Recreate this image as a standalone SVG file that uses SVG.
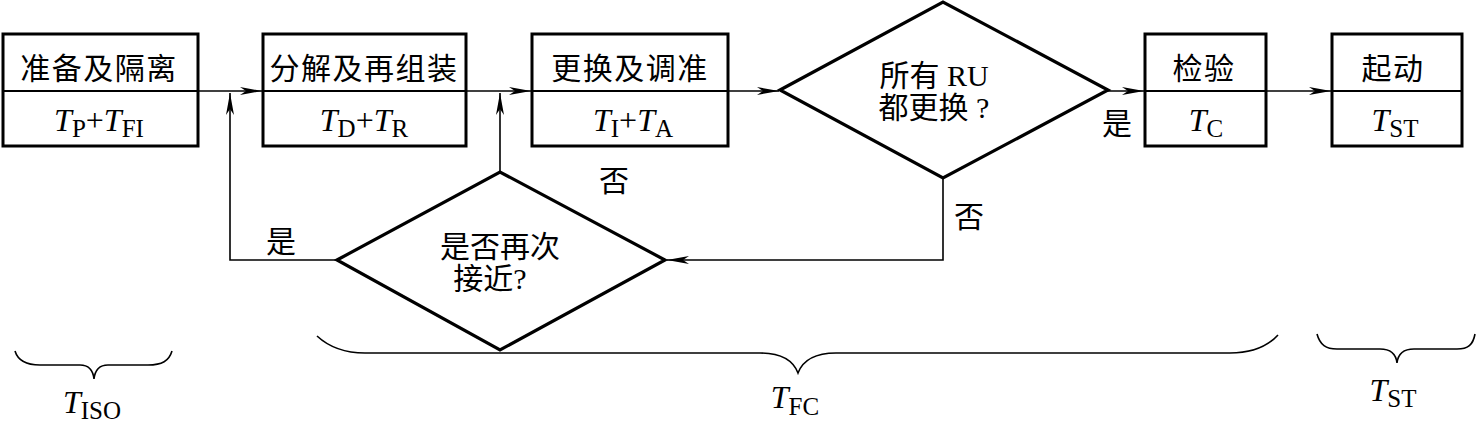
<svg xmlns="http://www.w3.org/2000/svg" width="1476" height="422" viewBox="0 0 1476 422">
<style>
.box{fill:#fff;stroke:#000;stroke-width:3}
.div{stroke:#000;stroke-width:2}
.dia{fill:#fff;stroke:#000;stroke-width:3.2;stroke-linejoin:miter}
.con{fill:none;stroke:#000;stroke-width:1.6}
.brace{fill:none;stroke:#000;stroke-width:1.6}
.cn{font-family:"Liberation Serif","Noto Sans CJK SC",serif;font-size:30px;fill:#000;text-anchor:middle}
.f{font-family:"Liberation Serif",serif;font-size:32px;fill:#000;text-anchor:middle}
.i{font-style:italic}
.s{font-size:25px}
</style>
<defs>
<marker id="arr" viewBox="0 0 22 8" refX="22" refY="4" markerWidth="22" markerHeight="8" markerUnits="userSpaceOnUse" orient="auto">
<path d="M0,0 L22,4 L0,8 L6,4 Z" fill="#000"/>
</marker>
</defs>
<g id="connectors">
<path class="con" d="M198,91 H262" marker-end="url(#arr)"/>
<path class="con" d="M466,91 H531" marker-end="url(#arr)"/>
<path class="con" d="M728,91 H779" marker-end="url(#arr)"/>
<path class="con" d="M1108,91 H1144" marker-end="url(#arr)"/>
<path class="con" d="M1266,91 H1331" marker-end="url(#arr)"/>
<path class="con" d="M943,178 V260 H667" marker-end="url(#arr)"/>
<path class="con" d="M337,260 H230 V93" marker-end="url(#arr)"/>
<path class="con" d="M500,172 V93" marker-end="url(#arr)"/>
</g>
<g id="box1">
<rect class="box" x="3" y="34" width="195" height="112"/>
<line class="div" x1="3" y1="91" x2="198" y2="91"/>
<text class="cn" x="99" y="79" letter-spacing="1.5">准备及隔离</text>
<text class="f" x="99" y="131"><tspan class="i">T</tspan><tspan class="s" dy="6">P</tspan><tspan dy="-6">+</tspan><tspan class="i">T</tspan><tspan class="s" dy="6">FI</tspan></text>
</g>
<g id="box2">
<rect class="box" x="263" y="34" width="203" height="112"/>
<line class="div" x1="263" y1="91" x2="466" y2="91"/>
<text class="cn" x="364" y="79" letter-spacing="1.5">分解及再组装</text>
<text class="f" x="364" y="131"><tspan class="i">T</tspan><tspan class="s" dy="6">D</tspan><tspan dy="-6">+</tspan><tspan class="i">T</tspan><tspan class="s" dy="6">R</tspan></text>
</g>
<g id="box3">
<rect class="box" x="532" y="34" width="196" height="112"/>
<line class="div" x1="532" y1="91" x2="728" y2="91"/>
<text class="cn" x="630" y="79" letter-spacing="1.5">更换及调准</text>
<text class="f" x="633" y="131"><tspan class="i">T</tspan><tspan class="s" dy="6">I</tspan><tspan dy="-6">+</tspan><tspan class="i">T</tspan><tspan class="s" dy="6">A</tspan></text>
</g>
<g id="diamond1">
<polygon class="dia" points="780,90 943,2 1108,90 943,178"/>
<text class="cn" x="934" y="86">所有 RU</text>
<text class="cn" x="934" y="118">都更换 ?</text>
</g>
<g id="box4">
<rect class="box" x="1145" y="34" width="121" height="112"/>
<line class="div" x1="1145" y1="91" x2="1266" y2="91"/>
<text class="cn" x="1204" y="79" letter-spacing="1.5">检验</text>
<text class="f" x="1206" y="131"><tspan class="i">T</tspan><tspan class="s" dy="6">C</tspan></text>
</g>
<g id="box5">
<rect class="box" x="1332" y="34" width="130" height="112"/>
<line class="div" x1="1332" y1="91" x2="1462" y2="91"/>
<text class="cn" x="1393" y="79" letter-spacing="1.5">起动</text>
<text class="f" x="1395" y="131"><tspan class="i">T</tspan><tspan class="s" dy="6">ST</tspan></text>
</g>
<g id="diamond2">
<polygon class="dia" points="337,260 500,172 665,260 500,350"/>
<text class="cn" x="500" y="257">是否再次</text>
<text class="cn" x="490" y="289">接近?</text>
</g>
<g id="labels">
<text class="cn" x="281" y="252">是</text>
<text class="cn" x="614" y="191">否</text>
<text class="cn" x="969" y="227">否</text>
<text class="cn" x="1117" y="134">是</text>
</g>
<g id="braces">
<path class="brace" d="M15,351 C18,361 26,365 40,365 H80 C88,365 93,370 94,379 C95,370 100,365 108,365 H148 C162,365 169,361 172,351"/>
<path class="brace" d="M317,336 C330,348 345,353 365,353 H760 C780,353 793,360 798,373 C803,360 816,353 836,353 H1230 C1252,353 1268,346 1278,335"/>
<path class="brace" d="M1317,334 C1320,345 1326,349 1337,349 H1380 C1390,349 1396,354 1397,363 C1398,354 1404,349 1414,349 H1457 C1468,349 1473,345 1475,334"/>
<text class="f" x="92" y="413"><tspan class="i">T</tspan><tspan class="s" dy="6">ISO</tspan></text>
<text class="f" x="795" y="408"><tspan class="i">T</tspan><tspan class="s" dy="7">FC</tspan></text>
<text class="f" x="1393" y="401"><tspan class="i">T</tspan><tspan class="s" dy="6">ST</tspan></text>
</g>
</svg>
